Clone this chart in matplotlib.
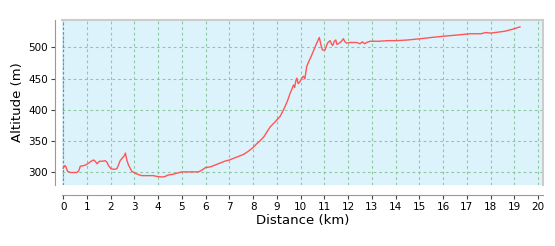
import matplotlib
matplotlib.use("Agg")
import matplotlib.pyplot as plt

# elevation profile
distance_km = [0.0, 0.07, 0.12, 0.18, 0.3, 0.43, 0.58, 0.66, 0.72, 0.86, 0.95, 1.07, 1.18, 1.28, 1.35, 1.42,
               1.53, 1.65, 1.77, 1.85, 1.91, 2.01, 2.15, 2.26, 2.33, 2.4, 2.51, 2.58, 2.62, 2.68, 2.75,
               2.89, 3.07, 3.3, 3.8, 3.9, 4.08, 4.25, 4.43, 4.6, 4.8, 5.0, 5.3, 5.7, 5.85, 6.0, 6.2,
               6.4, 6.6, 6.8, 7.0, 7.2, 7.4, 7.6, 7.8, 8.0, 8.15, 8.3, 8.45, 8.6, 8.72, 8.9, 9.14,
               9.25, 9.35, 9.45, 9.56, 9.62, 9.7, 9.75, 9.8, 9.84, 9.9, 9.98, 10.05, 10.12, 10.18, 10.26,
               10.35, 10.47, 10.58, 10.68, 10.74, 10.79, 10.85, 10.92, 11.03, 11.13, 11.24, 11.3, 11.35,
               11.42, 11.48, 11.53, 11.59, 11.7, 11.8, 11.87, 11.94, 12.1, 12.36, 12.5, 12.6, 12.7,
               12.78, 12.93, 13.3, 13.7, 14.05, 14.5, 15.03, 15.5, 16.01, 16.6, 17.14, 17.6, 17.8,
               18.0, 18.4, 18.6, 18.8, 19.0, 19.24]
altitude_m = [307, 311, 309, 302, 300, 300, 300, 303, 310, 311, 312, 315, 318, 320, 318, 314,
              318, 318, 319, 316, 311, 306, 305, 306, 312, 319, 324, 327, 331, 320, 312,
              302, 298, 295, 295, 294, 293, 293, 296, 297, 299, 301, 301, 301, 304, 308, 309,
              312, 315, 318, 320, 323, 326, 329, 334, 340, 346, 351, 357, 366, 373, 380, 390,
              398, 406, 415, 427, 432, 440, 436, 447, 451, 442, 446, 451, 454, 450, 470,
              478, 488, 498, 507, 512, 516, 505, 496, 496, 507, 511, 506, 503,
              510, 512, 505, 506, 509, 514, 509, 507, 508, 508, 506, 509, 506,
              508, 510, 510, 511, 511, 512, 514, 516, 518, 520, 522, 522, 524,
              523, 525, 526, 528, 530, 533]

fig = plt.figure(figsize=(5.55, 2.46), dpi=100)
ax = fig.add_axes([0.1117, 0.248, 0.8663, 0.6707])
ax.set_facecolor("#ddf3fc")

ax.plot(distance_km, altitude_m, color="#ff5555", linewidth=1.0, zorder=3)
ax.axvline(0, color="#6f7fd6", linestyle=(0, (2, 2)), linewidth=0.8, zorder=2)

ax.set_xlim(-0.05, 20.2)
ax.set_ylim(280, 544)
ax.set_xticks(range(0, 21))
ax.set_yticks([300, 350, 400, 450, 500])
ax.grid(True, color="#8cc9a0", linestyle=(0, (2.5, 2.5)), linewidth=0.8)
ax.set_axisbelow(True)

# axes sit slightly apart from the plot area
ax.spines["left"].set_position(("outward", 5))
ax.spines["bottom"].set_position(("outward", 7))
for side in ["left", "bottom"]:
    ax.spines[side].set_color("#999999")
for side in ["top", "right"]:
    ax.spines[side].set_color("#cccccc")
    ax.spines[side].set_linewidth(1.5)
ax.tick_params(colors="#444444", labelcolor="black", labelsize=7.5, length=3, pad=2)

ax.set_xlabel("Distance (km)", fontsize=9.5, labelpad=2)
ax.set_ylabel("Altitude (m)", fontsize=9.5, labelpad=3)

fig.savefig("out.png", dpi=100)
